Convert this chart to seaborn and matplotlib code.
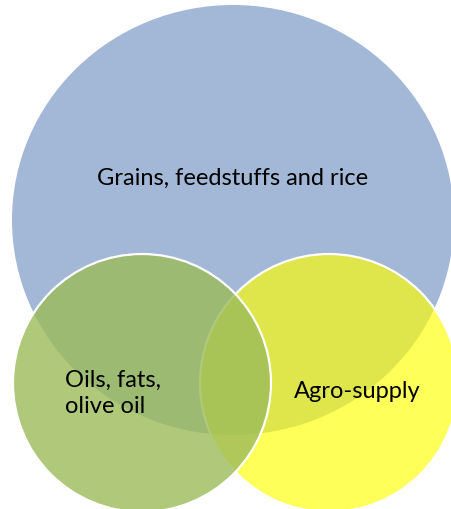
import numpy as np
import matplotlib.pyplot as plt
import seaborn as sns
from matplotlib.patches import Ellipse

sns.set_theme(style="white")
plt.rcParams['font.family'] = ['Lato', 'DejaVu Sans']

# Kümeler
labels = ["Grains, feedstuffs and rice", "Agro-supply", "Oils, fats,\nolive oil"]

# Yerleşim (piksel koordinatları, y aşağı doğru)
centers = [(233, 221), (329, 384), (142, 384)]
widths = [442, 258, 258]
heights = [430, 258, 258]
colors = ["#A3B8D6", "#FFFF00", "#9BBB59"]
alphas = [1.0, 0.65, 0.8]
text_pos = [(233, 178), (357, 392), (65, 393)]
text_ha = ["center", "center", "left"]

fig = plt.figure(figsize=(4.51, 5.10), dpi=100)
ax = fig.add_axes([0, 0, 1, 1])
ax.set_xlim(0, 451)
ax.set_ylim(510, 0)
ax.set_aspect("equal")
ax.axis("off")

for c, w, h, col, a in zip(centers, widths, heights, colors, alphas):
    ax.add_patch(Ellipse(c, w, h, facecolor=col, alpha=a, edgecolor="none"))
    if col != colors[0]:
        ax.add_patch(Ellipse(c, w, h, facecolor="none", edgecolor="white", lw=1.6))

for lab, (x, y), ha in zip(labels, text_pos, text_ha):
    ax.text(x, y, lab, ha=ha, va="center", fontsize=17, color="black", linespacing=1.3)

plt.savefig("out.png", dpi=100)
